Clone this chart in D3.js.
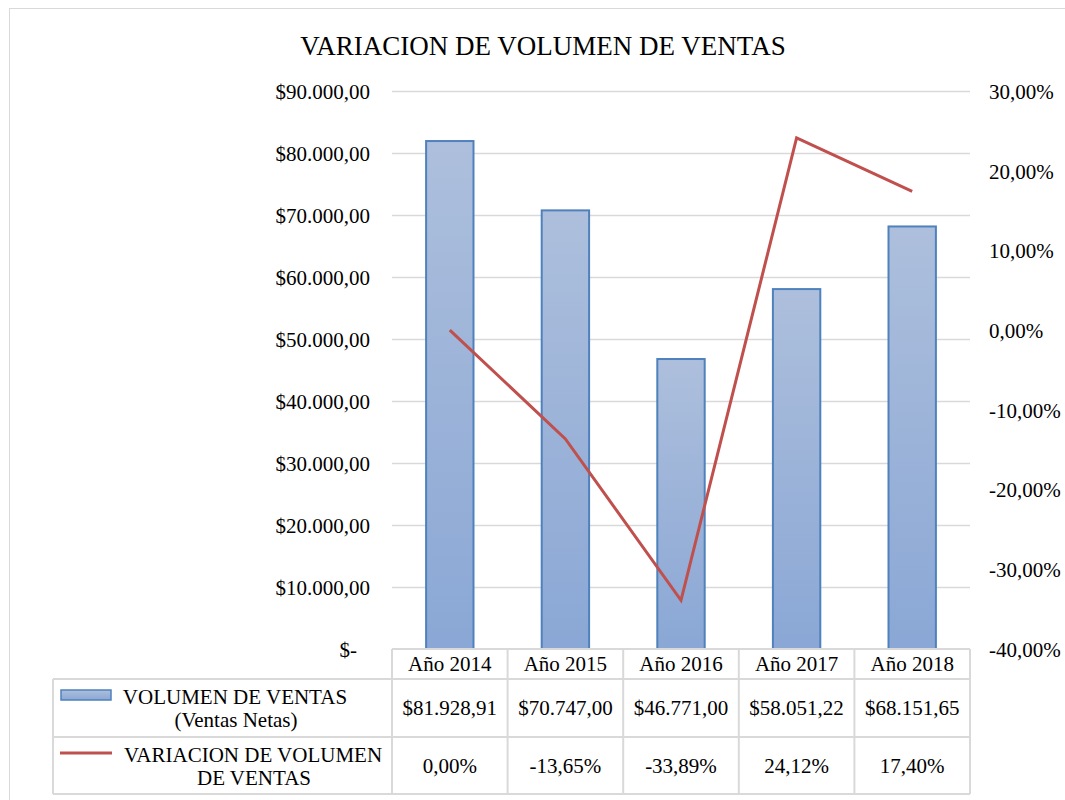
<!DOCTYPE html>
<html>
<head>
<meta charset="utf-8">
<script src="https://cdn.jsdelivr.net/npm/d3@7"></script>
<style>
body { margin: 0; background: #fff; }
text { font-family: "Liberation Serif", "Times New Roman", serif; fill: #000; }
</style>
</head>
<body>
<div id="chart"></div>
<script>
var years = ["Año 2014", "Año 2015", "Año 2016", "Año 2017", "Año 2018"];
var ventas = [81928.91, 70747.00, 46771.00, 58051.22, 68151.65];
var variacion = [0.00, -13.65, -33.89, 24.12, 17.40];
var ventasLabels = ["$81.928,91", "$70.747,00", "$46.771,00", "$58.051,22", "$68.151,65"];
var variacionLabels = ["0,00%", "-13,65%", "-33,89%", "24,12%", "17,40%"];
var leftTicks = [0, 10000, 20000, 30000, 40000, 50000, 60000, 70000, 80000, 90000];
var rightTicks = [-40, -30, -20, -10, 0, 10, 20, 30];

var W = 1065, H = 800;
var plot = {left: 392, right: 970, top: 91, bottom: 649};
var fs = 21;

var svg = d3.select("#chart").append("svg")
	.attr("width", W)
	.attr("height", H);

// chart frame
svg.append("rect")
	.attr("x", 9.5).attr("y", 8.5)
	.attr("width", W + 20).attr("height", H + 20)
	.attr("fill", "none").attr("stroke", "#d9d9d9");

var defs = svg.append("defs");
var grad = defs.append("linearGradient")
	.attr("id", "barGrad")
	.attr("x1", 0).attr("y1", 0).attr("x2", 0).attr("y2", 1);
grad.append("stop").attr("offset", "0%").attr("stop-color", "#adbfdc");
grad.append("stop").attr("offset", "100%").attr("stop-color", "#8aa7d5");

var x = d3.scaleBand().domain(years).range([plot.left, plot.right]).paddingInner(0.59).paddingOuter(0.295);
var xCol = d3.scaleBand().domain(years).range([plot.left, plot.right]);
var y = d3.scaleLinear().domain([0, 90000]).range([plot.bottom, plot.top]);
var y2 = d3.scaleLinear().domain([-40, 30]).range([plot.bottom, plot.top]);

// gridlines
svg.append("g").selectAll("line")
	.data(leftTicks.filter(function(d){ return d > 0; }))
	.enter().append("line")
	.attr("x1", plot.left).attr("x2", plot.right)
	.attr("y1", function(d){ return Math.round(y(d)) + 0.5; })
	.attr("y2", function(d){ return Math.round(y(d)) + 0.5; })
	.attr("stroke", "#d9d9d9").attr("stroke-width", 1.5);

// left axis
var fmtMoney = function(d) {
	if (d === 0) return "$-";
	return "$" + d3.format(",.2f")(d).replace(/,/g, "X").replace(/\./g, ",").replace(/X/g, ".");
};
var leftAxis = svg.append("g")
	.attr("transform", "translate(" + (plot.left - 22) + ",0)")
	.call(d3.axisLeft(y).tickValues(leftTicks).tickSize(0).tickFormat(fmtMoney));
leftAxis.select(".domain").remove();
leftAxis.selectAll("text").attr("font-size", fs).attr("font-family", "Liberation Serif").attr("x", 0).attr("dy", "0.35em");
leftAxis.selectAll(".tick").filter(function(d){ return d === 0; }).select("text").attr("x", -13);

// right axis
var fmtPct = function(d) { return d3.format(".2f")(d).replace("−", "-").replace(".", ",") + "%"; };
var rightAxis = svg.append("g")
	.attr("transform", "translate(" + (plot.right + 19) + ",0)")
	.call(d3.axisRight(y2).tickValues(rightTicks).tickSize(0).tickFormat(fmtPct));
rightAxis.select(".domain").remove();
rightAxis.selectAll("text").attr("font-size", fs).attr("font-family", "Liberation Serif").attr("x", 0).attr("dy", "0.35em");

// bars
svg.append("g").selectAll("rect")
	.data(ventas)
	.enter().append("rect")
	.attr("x", function(d, i){ return x(years[i]); })
	.attr("y", function(d){ return y(d); })
	.attr("width", x.bandwidth())
	.attr("height", function(d){ return plot.bottom - y(d); })
	.attr("fill", "url(#barGrad)")
	.attr("stroke", "#4f81bd").attr("stroke-width", 2);

// line
var line = d3.line()
	.x(function(d, i){ return xCol(years[i]) + xCol.bandwidth() / 2; })
	.y(function(d){ return y2(d); });
svg.append("path")
	.datum(variacion)
	.attr("d", line)
	.attr("fill", "none")
	.attr("stroke", "#c0504d")
	.attr("stroke-width", 3);

// title
svg.append("text")
	.attr("x", 543).attr("y", 55)
	.attr("text-anchor", "middle")
	.attr("font-size", 27)
	.text("VARIACION DE VOLUMEN DE VENTAS");

// data table
var rows = {header: [649, 679], r1: [679, 737], r2: [737, 794]};
var tableLeft = 53;
var tbl = svg.append("g").attr("stroke", "#d9d9d9").attr("stroke-width", 2).attr("fill", "none");
tbl.append("line").attr("x1", plot.left).attr("x2", plot.right).attr("y1", rows.header[0]).attr("y2", rows.header[0]);
tbl.append("line").attr("x1", tableLeft).attr("x2", plot.right).attr("y1", rows.r1[0]).attr("y2", rows.r1[0]);
tbl.append("line").attr("x1", tableLeft).attr("x2", plot.right).attr("y1", rows.r2[0]).attr("y2", rows.r2[0]);
tbl.append("line").attr("x1", tableLeft).attr("x2", plot.right).attr("y1", rows.r2[1]).attr("y2", rows.r2[1]);
tbl.append("line").attr("x1", tableLeft).attr("x2", tableLeft).attr("y1", rows.r1[0]).attr("y2", rows.r2[1]);
tbl.selectAll(".v").data(years).enter().append("line")
	.attr("x1", function(d){ return xCol(d); }).attr("x2", function(d){ return xCol(d); })
	.attr("y1", rows.header[0]).attr("y2", rows.r2[1]);
tbl.append("line").attr("x1", plot.right).attr("x2", plot.right).attr("y1", rows.header[0]).attr("y2", rows.r2[1]);

var cell = function(arr, r) {
	svg.append("g").selectAll("text")
		.data(arr).enter().append("text")
		.attr("x", function(d, i){ return xCol(years[i]) + xCol.bandwidth() / 2; })
		.attr("y", (r[0] + r[1]) / 2)
		.attr("dy", "0.35em")
		.attr("text-anchor", "middle")
		.attr("font-size", fs)
		.text(function(d){ return d; });
};
cell(years, rows.header);
cell(ventasLabels, rows.r1);
cell(variacionLabels, rows.r2);

// legend keys
svg.append("rect")
	.attr("x", 61).attr("y", 690).attr("width", 50).attr("height", 10)
	.attr("fill", "url(#barGrad)").attr("stroke", "#4f81bd").attr("stroke-width", 1.5);
svg.append("line")
	.attr("x1", 60).attr("x2", 112).attr("y1", 753).attr("y2", 753)
	.attr("stroke", "#c0504d").attr("stroke-width", 3);

svg.append("text").attr("x", 235).attr("y", 704).attr("text-anchor", "middle").attr("font-size", fs).text("VOLUMEN DE VENTAS");
svg.append("text").attr("x", 236).attr("y", 727).attr("text-anchor", "middle").attr("font-size", fs).text("(Ventas Netas)");
svg.append("text").attr("x", 253).attr("y", 762).attr("text-anchor", "middle").attr("font-size", fs).text("VARIACION DE VOLUMEN");
svg.append("text").attr("x", 254).attr("y", 785).attr("text-anchor", "middle").attr("font-size", fs).text("DE VENTAS");
</script>
</body>
</html>
